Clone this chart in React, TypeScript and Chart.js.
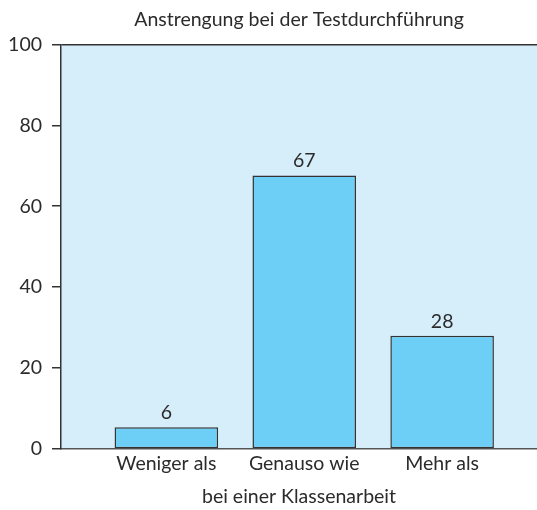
import React, { useEffect, useRef } from "react";
import { Chart, registerables } from "chart.js";

Chart.register(...registerables);

const chartTitle = "Anstrengung bei der Testdurchführung";
const xAxisTitle = "bei einer Klassenarbeit";
const categories = ["Weniger als", "Genauso wie", "Mehr als"];
const values = [5.4, 67.6, 28.0];
const valueLabels = ["6", "67", "28"];
const yTicks = [0, 20, 40, 60, 80, 100];

const FONT = "Lato, 'Noto Sans', sans-serif";
const TEXT = "#2b2b2b";

const bgPlugin = {
  id: "plotBg",
  beforeDraw(chart: any) {
    const { ctx, chartArea } = chart;
    ctx.save();
    ctx.fillStyle = "#d6edfa";
    ctx.fillRect(chartArea.left, chartArea.top, chartArea.right - chartArea.left, chartArea.bottom - chartArea.top);
    ctx.restore();
  },
};

const labelPlugin = {
  id: "valueLabels",
  afterDatasetsDraw(chart: any) {
    const { ctx } = chart;
    const meta = chart.getDatasetMeta(0);
    ctx.save();
    ctx.fillStyle = TEXT;
    ctx.font = `19.5px ${FONT}`;
    ctx.textAlign = "center";
    ctx.textBaseline = "alphabetic";
    meta.data.forEach((bar: any, i: number) => {
      ctx.fillText(valueLabels[i], bar.x, bar.y - 8);
    });
    ctx.restore();
  },
};

export default function App() {
  const ref = useRef<HTMLCanvasElement | null>(null);
  useEffect(() => {
    if (!ref.current) return;
    const chart = new Chart(ref.current, {
      type: "bar",
      data: {
        datasets: [
          {
            data: values.map((v, i) => ({ x: i + 1, y: v })),
            backgroundColor: "#6dcff6",
            borderColor: "#333333",
            borderWidth: 1.5,
            borderSkipped: false,
            categoryPercentage: 1,
            barPercentage: 0.751,
          },
        ],
      },
      options: {
        animation: false,
        responsive: false,
        maintainAspectRatio: false,
        layout: { padding: 0 },
        plugins: {
          legend: { display: false },
          tooltip: { enabled: false },
          title: {
            display: true,
            text: chartTitle,
            fullSize: false,
            color: TEXT,
            font: { family: FONT, size: 19.5, weight: "normal" },
            padding: { top: 8, bottom: 13 },
          },
        },
        scales: {
          x: {
            type: "linear",
            offset: false,
            min: 0.236,
            max: 3.688,
            afterBuildTicks: (scale: any) => {
              scale.ticks = categories.map((_, i) => ({ value: i + 1 }));
            },
            afterFit: (scale: any) => {
              scale.height = 61;
            },
            grid: { display: false, drawTicks: false, offset: false },
            border: { display: true, color: "#555555", width: 1.5 },
            ticks: {
              color: TEXT,
              font: { family: FONT, size: 19.5 },
              padding: 3,
              autoSkip: false,
              maxRotation: 0,
              callback: (v: any) => categories[Math.round(v) - 1] ?? "",
            },
            title: {
              display: true,
              text: xAxisTitle,
              color: TEXT,
              font: { family: FONT, size: 19.5 },
              padding: { top: 0, bottom: 2 },
            },
          },
          y: {
            min: 0,
            max: 100,
            afterBuildTicks: (scale: any) => {
              scale.ticks = yTicks.map((v) => ({ value: v }));
            },
            afterFit: (scale: any) => {
              scale.width = 61;
            },
            grid: {
              color: (c: any) => (c.tick && c.tick.value === 100 ? "#333333" : "rgba(0,0,0,0)"),
              tickColor: "#333333",
              tickLength: 9,
              lineWidth: 1.5,
              drawTicks: true,
            },
            border: { display: true, color: "#333333", width: 1.5 },
            ticks: {
              color: TEXT,
              font: { family: FONT, size: 19.5 },
              padding: 10,
            },
          },
        },
      },
      plugins: [bgPlugin, labelPlugin],
    });
    return () => chart.destroy();
  }, []);
  return (
    <div style={{ position: "fixed", left: 0, top: 0, width: 537, height: 510, background: "#fff" }}>
      <canvas ref={ref} width={537} height={510} style={{ display: "block" }} />
    </div>
  );
}
